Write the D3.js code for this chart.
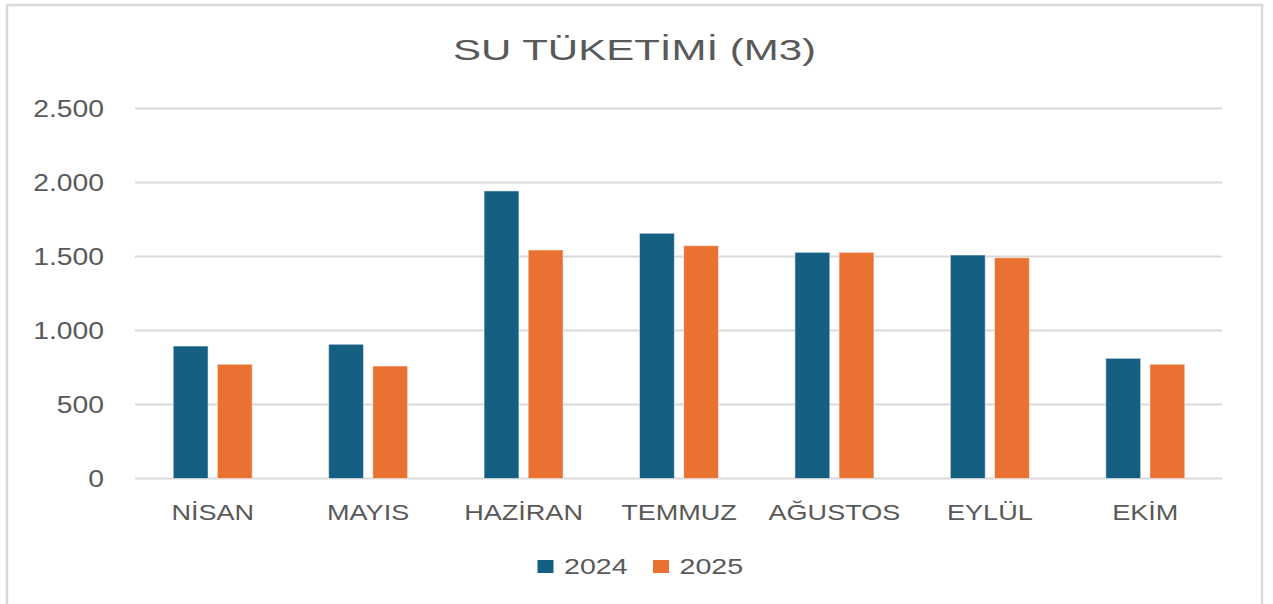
<!DOCTYPE html>
<html>
<head>
<meta charset="utf-8">
<script src="https://cdn.jsdelivr.net/npm/d3@7"></script>
<style>
  html, body { margin: 0; padding: 0; background: #ffffff; }
  svg { display: block; }
  text { font-family: "Liberation Sans", Arial, sans-serif; fill: #595959; }
</style>
</head>
<body>
<svg id="chart" width="1273" height="604"></svg>
<script>
// ---- data ----
const categories = ["NİSAN", "MAYIS", "HAZİRAN", "TEMMUZ", "AĞUSTOS", "EYLÜL", "EKİM"];
const seriesNames = ["2024", "2025"];
const values2024 = [895, 907, 1943, 1657, 1528, 1510, 812];
const values2025 = [772, 760, 1544, 1573, 1528, 1492, 772];
const yTicks = [0, 500, 1000, 1500, 2000, 2500];
const yTickLabels = ["0", "500", "1.000", "1.500", "2.000", "2.500"];
const seriesColors = ["#156082", "#E97132"];
const titleText = "SU TÜKETİMİ (M3)";

const seriesValues = [values2024, values2025];

const svg = d3.select("#chart");

// chart border
svg.append("rect")
  .attr("x", 7).attr("y", 5)
  .attr("width", 1255).attr("height", 620)
  .attr("fill", "#ffffff")
  .attr("stroke", "#d9d9d9").attr("stroke-width", 2.5);

// scales
const plotLeft = 135, plotRight = 1223, plotTop = 108.5, plotBottom = 478.5;
const y = d3.scaleLinear().domain([0, 2500]).range([plotBottom, plotTop]);
const x = d3.scaleBand().domain(categories).range([plotLeft, plotRight]).padding(0);
const groupW = 79;
const xSub = d3.scaleBand().domain(seriesNames).range([0, groupW]).paddingInner(0.21).paddingOuter(0);

// gridlines
svg.append("g").selectAll("line").data(yTicks).join("line")
  .attr("x1", plotLeft).attr("x2", plotRight - 1)
  .attr("y1", d => y(d)).attr("y2", d => y(d))
  .attr("stroke", "#d9d9d9").attr("stroke-width", 2);

// stretched text helper
function stretchedText(parent, str, px, py, size, sx, anchor) {
  const g = parent.append("g").attr("transform", `translate(${px},${py}) scale(${sx},1)`);
  g.append("text").attr("x", 0).attr("y", 0)
    .attr("font-size", size).attr("text-anchor", anchor).text(str);
  return g;
}

// y tick labels
const yAxisG = svg.append("g");
yTicks.forEach((t, i) => {
  stretchedText(yAxisG, yTickLabels[i], 104, y(t) + 8.2, 23, 1.23, "end");
});

// bars
const barsG = svg.append("g");
categories.forEach((c, ci) => {
  const gx = x(c) + (x.bandwidth() - groupW) / 2;
  seriesNames.forEach((s, si) => {
    const v = seriesValues[si][ci];
    barsG.append("rect")
      .attr("x", gx + xSub(s))
      .attr("y", y(v))
      .attr("width", xSub.bandwidth())
      .attr("height", y(0) - y(v))
      .attr("fill", seriesColors[si])
      .attr("stroke", "#ffffff").attr("stroke-opacity", 0.5).attr("stroke-width", 1);
  });
});

// x labels
const xAxisG = svg.append("g");
categories.forEach(c => {
  stretchedText(xAxisG, c, x(c) + x.bandwidth() / 2, 519.5, 22, 1.23, "middle");
});

// title
stretchedText(svg, titleText, 634.5, 59.5, 30, 1.4, "middle");

// legend
const legendG = svg.append("g");
const legendX = [537.5, 653];
seriesNames.forEach((s, i) => {
  legendG.append("rect")
    .attr("x", legendX[i]).attr("y", 560)
    .attr("width", 16).attr("height", 13)
    .attr("fill", seriesColors[i]);
  stretchedText(legendG, s, legendX[i] + 26.5, 573.5, 22, 1.3, "start");
});
</script>
</body>
</html>
